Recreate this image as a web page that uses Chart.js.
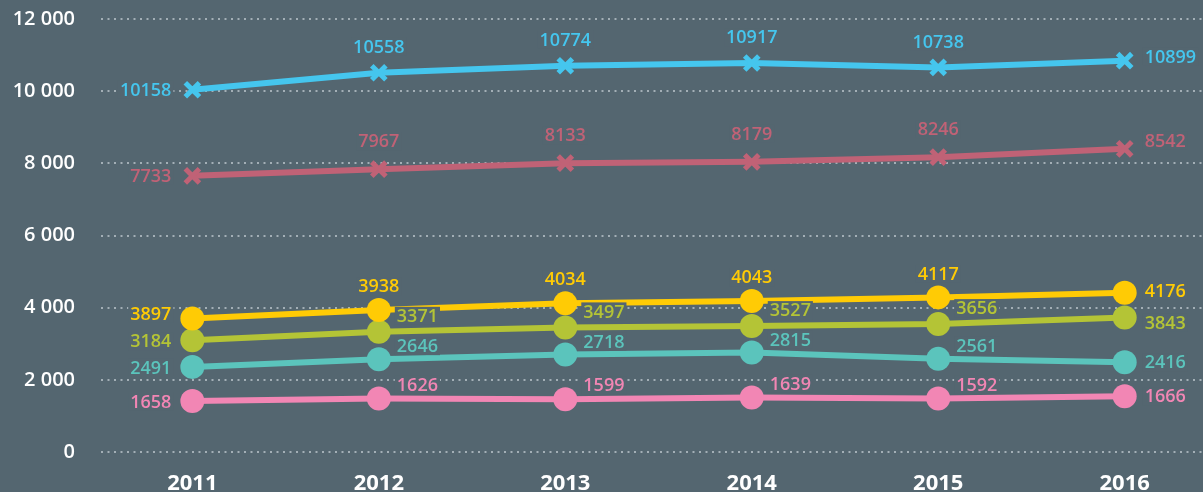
<!DOCTYPE html>
<html>
<head>
<meta charset="utf-8">
<script src="https://cdn.jsdelivr.net/npm/chart.js@4.4.1/dist/chart.umd.min.js"></script>
<style>
  html, body { margin: 0; padding: 0; background: #546670; }
  #wrap { width: 1203px; height: 492px; }
</style>
</head>
<body>
<div id="wrap"><canvas id="c" width="1203" height="492"></canvas></div>
<script>
// ---- data ----
const years = [2011, 2012, 2013, 2014, 2015, 2016];
const yearLabels = ['2011', '2012', '2013', '2014', '2015', '2016'];
const yTickLabels = ['0', '2 000', '4 000', '6 000', '8 000', '10 000', '12 000'];

// plotted values (as drawn in the picture)
const blueValues   = [10039, 10510, 10705, 10780, 10658, 10844];
const redValues    = [7653, 7838, 8005, 8041, 8171, 8401];
const yellowValues = [3702, 3933, 4119, 4183, 4285, 4413];
const greenValues  = [3100, 3331, 3453, 3489, 3544, 3730];
const tealValues   = [2359, 2573, 2703, 2759, 2581, 2490];
const pinkValues   = [1415, 1482, 1463, 1510, 1482, 1546];

// value labels (as written in the picture)
const blueLabels   = [10158, 10558, 10774, 10917, 10738, 10899];
const redLabels    = [7733, 7967, 8133, 8179, 8246, 8542];
const yellowLabels = [3897, 3938, 4034, 4043, 4117, 4176];
const greenLabels  = [3184, 3371, 3497, 3527, 3656, 3843];
const tealLabels   = [2491, 2646, 2718, 2815, 2561, 2416];
const pinkLabels   = [1658, 1626, 1599, 1639, 1592, 1666];

const BG = '#546670';
const FONT = '"Open Sans", "Liberation Sans", sans-serif';
const X_MIN = 2010.51, X_MAX = 2016.42;

function toPoints(vals) { return vals.map((v, i) => ({ x: years[i], y: v })); }

function series(vals, labels, color, style, place) {
  const isCross = style === 'cross';
  return {
    data: toPoints(vals),
    valueLabels: labels,
    place: place,
    borderColor: color,
    backgroundColor: color,
    borderWidth: 6,
    tension: 0,
    pointStyle: isCross ? 'crossRot' : 'circle',
    pointRadius: isCross ? 10 : 12,
    pointHoverRadius: isCross ? 10 : 12,
    pointBorderWidth: isCross ? 5 : 0,
    pointBorderColor: color,
    pointBackgroundColor: color
  };
}

const datasets = [
  series(blueValues,   blueLabels,   '#45c6ee', 'cross',  { mid: 'above', midDy: -26, leftDy: 0,  rightDy: -4 }),
  series(redValues,    redLabels,    '#c06276', 'cross',  { mid: 'above', midDy: -28, leftDy: 0,  rightDy: -8 }),
  series(yellowValues, yellowLabels, '#ffcb05', 'circle', { mid: 'above', midDy: -24, leftDy: -5, rightDy: -2 }),
  series(greenValues,  greenLabels,  '#b4c436', 'circle', { mid: 'aboveRight', midDy: -16, leftDy: 1, rightDy: 5 }),
  series(tealValues,   tealLabels,   '#5bc4bc', 'circle', { mid: 'aboveRight', midDy: -13, leftDy: 1, rightDy: 0 }),
  series(pinkValues,   pinkLabels,   '#f286b4', 'circle', { mid: 'aboveRight', midDy: -14, leftDy: 1, rightDy: 0 })
];

const bgPlugin = {
  id: 'bg',
  beforeDraw(chart) {
    const ctx = chart.ctx;
    ctx.save();
    ctx.fillStyle = BG;
    ctx.fillRect(0, 0, chart.width, chart.height);
    ctx.restore();
  }
};

const labelPlugin = {
  id: 'valueLabels',
  afterDatasetsDraw(chart) {
    const ctx = chart.ctx;
    ctx.save();
    ctx.font = '600 18px ' + FONT;
    ctx.textBaseline = 'middle';
    chart.data.datasets.forEach((ds, di) => {
      const meta = chart.getDatasetMeta(di);
      const n = meta.data.length;
      meta.data.forEach((pt, j) => {
        const text = String(ds.valueLabels[j]);
        const w = ctx.measureText(text).width;
        let x, y, left;
        if (j === 0) {
          x = pt.x - 21; y = pt.y + ds.place.leftDy; left = x - w;
        } else if (j === n - 1) {
          x = pt.x + 20; y = pt.y + ds.place.rightDy; left = x;
        } else if (ds.place.mid === 'above') {
          x = pt.x; y = pt.y + ds.place.midDy; left = x - w / 2;
        } else {
          x = pt.x + 18; y = pt.y + ds.place.midDy; left = x;
        }
        ctx.fillStyle = BG;
        ctx.fillRect(left - 2, y - 9, w + 4, 18);
        ctx.fillStyle = ds.borderColor;
        ctx.textAlign = 'left';
        ctx.fillText(text, left, y + 1);
      });
    });
    ctx.restore();
  }
};

new Chart(document.getElementById('c'), {
  type: 'line',
  data: { datasets: datasets },
  options: {
    responsive: false,
    animation: false,
    events: [],
    layout: { autoPadding: false, padding: { top: 19, right: 0, left: 0, bottom: 0 } },
    plugins: { legend: { display: false }, tooltip: { enabled: false } },
    scales: {
      x: {
        type: 'linear',
        bounds: 'data',
        min: X_MIN,
        max: X_MAX,
        grid: { display: false, drawTicks: false },
        border: { display: false },
        afterBuildTicks(scale) {
          scale.min = X_MIN; scale.max = X_MAX;
          scale.ticks = years.map(v => ({ value: v }));
        },
        afterFit(scale) { scale.height = 40; scale.paddingLeft = 0; scale.paddingRight = 0; },
        ticks: {
          padding: 19,
          color: '#ffffff',
          font: { family: FONT, size: 22, weight: '700' },
          callback(value) { const i = years.indexOf(value); return i >= 0 ? yearLabels[i] : ''; }
        }
      },
      y: {
        min: 0,
        max: 12000,
        afterFit(scale) { scale.width = 101; scale.paddingTop = 0; scale.paddingBottom = 0; },
        afterBuildTicks(scale) { scale.ticks = yTickLabels.map((t, i) => ({ value: i * 2000 })); },
        grid: { color: 'rgba(190,200,205,0.75)', lineWidth: 2, drawTicks: false },
        border: { display: false, dash: [2, 4.5] },
        ticks: {
          padding: 26,
          color: '#ffffff',
          font: { family: FONT, size: 20, weight: '600' },
          callback(value) { const i = Math.round(value / 2000); return yTickLabels[i]; }
        }
      }
    }
  },
  plugins: [bgPlugin, labelPlugin]
});
</script>
</body>
</html>
